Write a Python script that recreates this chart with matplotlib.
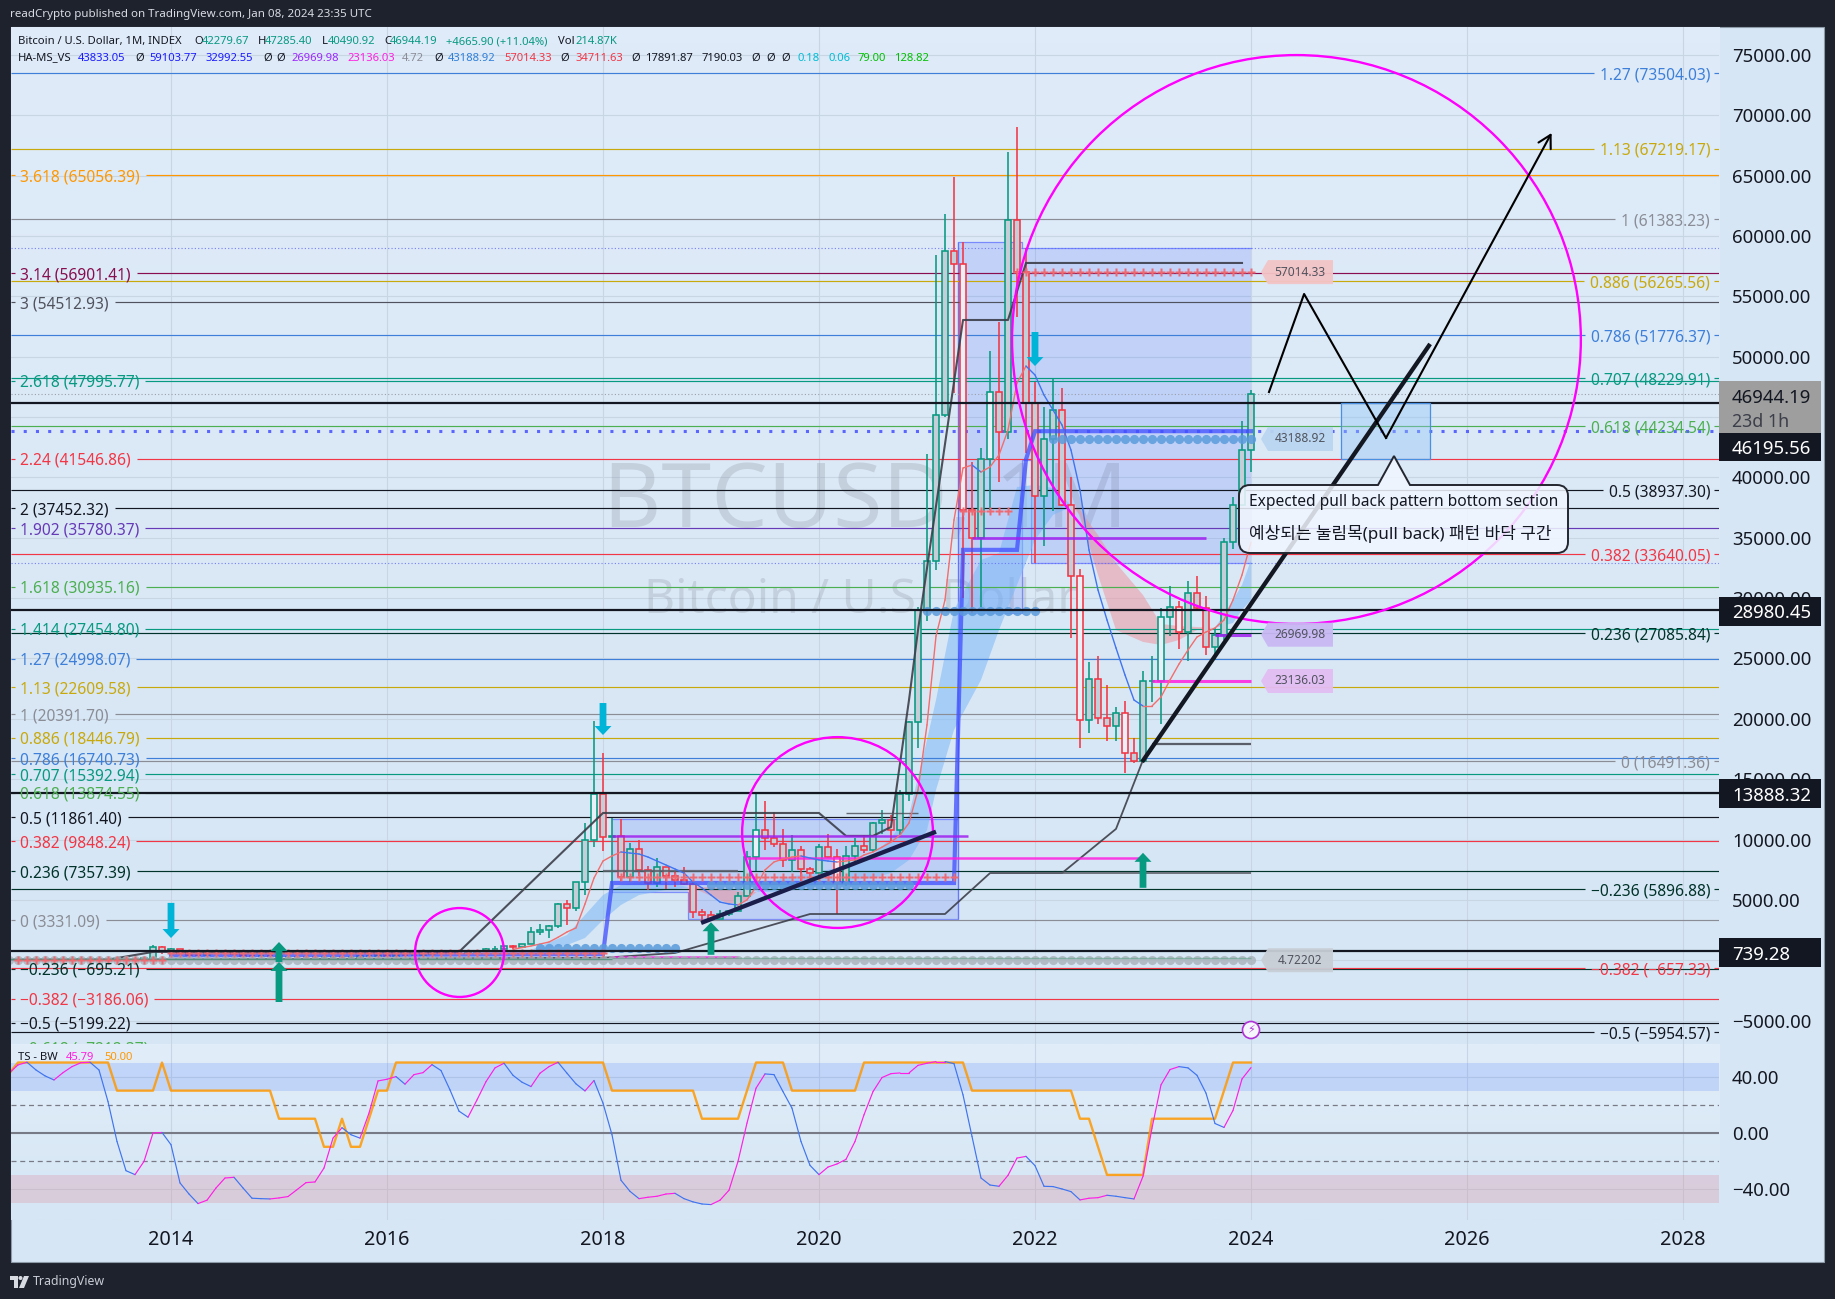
import numpy as np
import matplotlib
matplotlib.use("Agg")
import matplotlib.pyplot as plt
from matplotlib.collections import LineCollection
from matplotlib.patches import Ellipse, Polygon, PathPatch, Circle, Rectangle
from matplotlib.path import Path

plt.rcParams['font.family'] = ['Noto Sans', 'Noto Sans CJK KR', 'DejaVu Sans']

# ---------------------------------------------------------------- data
MONTH = list(range(-18, 121))   # months relative to Jan 2014
OPEN = [6.7,9,10,12.4,11,12.5,
 13,20,33,93,139,129,97,106,135,133,204,1130,
 750,940,570,460,450,625,640,590,480,385,340,375,
 320,230,255,245,235,230,263,284,230,236,314,377,
 430,370,437,416,448,530,675,625,575,610,700,745,
 965,965,1190,1080,1350,2300,2480,2875,4700,4340,6450,9950,
 13800,10200,10300,6900,9240,7490,6390,7730,7010,6620,6300,4020,
 3740,3450,3830,4100,5320,8560,10800,10100,9600,8300,9150,7550,
 7200,9350,8530,6420,8620,9450,9140,11350,11650,10780,13800,19700,
 29000,33100,45200,58800,57700,37300,35000,41500,47100,43800,61300,57000,
 46200,38500,43200,45600,37700,31800,19900,23300,20050,19420,20500,17160,
 16530,23100,23150,28450,29250,27200,30450,29200,25950,26950,34650,37700,
 42280]
HIGH = [9.2,15,12.5,12.8,12.5,14,
 20,33,95,266,140,129,110,140,145,230,1242,1150,
 1020,940,710,545,630,680,660,600,510,410,455,380,
 320,265,300,265,245,270,320,285,245,335,500,470,
 465,445,440,470,550,780,705,630,640,720,755,980,
 1150,1200,1300,1350,2790,3000,2900,4750,4980,6470,11400,19800,
 17200,11780,11700,9750,10000,7780,8480,7750,7400,7700,6570,4230,
 4080,4200,4110,5620,9090,13900,13200,12300,10900,10400,9500,7750,
 9600,10500,9190,9480,10100,10400,11450,12480,12050,14100,19850,29300,
 41950,58400,61800,64900,59500,41300,42400,50500,52900,67000,69000,59000,
 47900,45800,48200,47400,40000,32400,24700,25200,22800,21000,21450,18400,
 23950,25200,29200,31000,29800,31400,31800,30200,27500,35000,38400,44700,
 47285]
LOW = [6.5,7,9.7,10,10.5,12.5,
 13,20,33,50,85,88,65,100,117,115,200,500,
 730,400,450,340,430,525,570,430,370,275,320,300,
 170,210,235,215,225,220,255,200,225,235,305,350,
 350,365,395,415,440,520,610,480,570,605,680,740,
 750,920,890,1070,1350,2100,1850,2700,2950,4100,5400,9400,
 9050,5900,6600,6450,7000,5780,6070,5880,6100,6200,3500,3150,
 3350,3400,3680,4090,5300,7430,9100,9400,7700,7300,6500,6400,
 6850,8450,3800,6150,8100,8900,8950,10500,9850,10400,13200,17600,
 28100,32300,45000,47000,30000,28800,29300,37300,39600,43200,53300,42000,
 32900,34300,37200,37600,26700,17600,18800,19600,18200,18200,15500,16300,
 16500,21400,19600,26900,25800,24800,28900,25300,24900,26500,34100,37600,
 40490]
CLOSE = [9,10,12.4,11,12.5,13.4,
 20,33,93,139,129,97,106,135,133,204,1130,750,
 940,570,460,450,625,640,590,480,385,340,375,320,
 230,255,245,235,230,263,284,230,236,314,377,430,
 370,437,416,448,530,675,625,575,610,700,745,965,
 965,1190,1080,1350,2300,2480,2875,4700,4340,6450,9950,13800,
 10200,10300,6900,9240,7490,6390,7730,7010,6620,6300,4020,3740,
 3450,3830,4100,5320,8560,10800,10100,9600,8300,9150,7550,7200,
 9350,8530,6420,8620,9450,9140,11350,11650,10780,13800,19700,29000,
 33100,45200,58800,57700,37300,35000,41500,47100,43800,61300,57000,46200,
 38500,43200,45600,37700,31800,19900,23300,20050,19420,20500,17160,16530,
 23100,23150,28450,29250,27200,30450,29200,25950,26950,34650,37700,42280,
 46944]
LIGHT_MONTHS = [47, 65, 74, 88, 91, 101, 106, 110, 112]

LEFT_FIB = [("3.618 (65056.39)", 65056.39, "#ff9800"), ("3.14 (56901.41)", 56901.41, "#880e4f"),
 ("3 (54512.93)", 54512.93, "#50535e"), ("2.618 (47995.77)", 47995.77, "#089981"),
 ("2.24 (41546.86)", 41546.86, "#f23645"), ("2 (37452.32)", 37452.32, "#131722"),
 ("1.902 (35780.37)", 35780.37, "#673ab7"), ("1.618 (30935.16)", 30935.16, "#4caf50"),
 ("1.414 (27454.80)", 27454.80, "#089981"), ("1.27 (24998.07)", 24998.07, "#3d7fd9"),
 ("1.13 (22609.58)", 22609.58, "#c8a90c"), ("1 (20391.70)", 20391.70, "#8a8d96"),
 ("0.886 (18446.79)", 18446.79, "#c8a90c"), ("0.786 (16740.73)", 16740.73, "#3d7fd9"),
 ("0.707 (15392.94)", 15392.94, "#089981"), ("0.618 (13874.55)", 13874.55, "#4caf50"),
 ("0.5 (11861.40)", 11861.40, "#131722"), ("0.382 (9848.24)", 9848.24, "#f23645"),
 ("0.236 (7357.39)", 7357.39, "#00332a"), ("0 (3331.09)", 3331.09, "#8a8d96"),
 ("\u22120.236 (\u2212695.21)", -695.21, "#00332a"), ("\u22120.382 (\u22123186.06)", -3186.06, "#f23645"),
 ("\u22120.5 (\u22125199.22)", -5199.22, "#131722"), ("\u22120.618 (\u22127212.37)", -7212.37, "#4caf50")]
RIGHT_FIB = [("1.27 (73504.03)", 73504.03, "#3d7fd9"), ("1.13 (67219.17)", 67219.17, "#c8a90c"),
 ("1 (61383.23)", 61383.23, "#8a8d96"), ("0.886 (56265.56)", 56265.56, "#c8a90c"),
 ("0.786 (51776.37)", 51776.37, "#3d7fd9"), ("0.707 (48229.91)", 48229.91, "#089981"),
 ("0.618 (44234.54)", 44234.54, "#4caf50"), ("0.5 (38937.30)", 38937.30, "#131722"),
 ("0.382 (33640.05)", 33640.05, "#f23645"), ("0.236 (27085.84)", 27085.84, "#00332a"),
 ("0 (16491.36)", 16491.36, "#8a8d96"), ("\u22120.236 (5896.88)", 5896.88, "#00332a"),
 ("\u22120.382 (\u2212657.33)", -657.33, "#f23645"), ("\u22120.5 (\u22125954.57)", -5954.57, "#131722")]

GRID_PRICES = list(range(75000, -5001, -5000))
PRICE_TICKS = [75000, 70000, 65000, 60000, 55000, 50000, 40000, 35000, 30000, 25000, 20000, 15000, 10000, 5000, -5000]
YEAR_LABELS = ["2014", "2016", "2018", "2020", "2022", "2024", "2026", "2028"]
YEAR_MONTHS = [0, 24, 48, 72, 96, 120, 144, 168]
BLACK_LEVELS = [46195.56, 28980.45, 13888.32, 739.28]

MA_MONTH = list(range(38, 121))
MA_VALUE = [900,1050,1180,1340,1510,1900,2340,2680,4660,6810,8220,8640,8970,8880,8800,8550,8220,7890,7560,7220,
 6480,5990,5400,4820,4660,4580,5000,6070,7480,8140,8390,8550,8640,8470,8310,8220,8140,8220,8310,8720,8970,
 9370,9790,10370,11370,14100,19500,26860,29850,36475,40780,41030,40450,40870,41860,43930,47825,49230,48490,
 46830,45590,44345,42270,38960,33990,30675,28190,25870,23630,21560,21065,21065,21810,23220,24540,25705,
 26780,27195,27530,28190,29850,31920,34650]

RIB_MONTH = [40,44,46,48,50,52,55,58,60,62,64,66,68,70,74,78,80,82,84,85,87,90,92,94,96,98,100,101,103,105,108,110,112,114,116,118,119,120]
RIB_FAST = [850,2090,3750,5400,6240,6490,6400,5990,5320,4660,4990,6240,6810,7060,7640,8720,10130,12030,18250,21560,29020,33160,33740,39210,39380,39120,37720,36890,31920,27360,26370,26120,26530,27360,27530,29850,31090,33160]
RIB_SLOW = [684,1260,1840,3330,4580,5400,5820,6070,6070,5820,5660,5660,5660,5990,6490,6810,7230,8300,10790,14100,19080,23220,27360,31090,34820,36890,37550,37310,35230,32910,30260,27860,27690,27610,27530,27940,29020,29850]

ZONE_MONTH = [49, 57.4, 87.4, 94.6, 95.6, 120]
ZONE_TOP = [11700, 11700, 59500, 59000, 59000, 59000]
ZONE_BOT = [5650, 3420, 28770, 41450, 32900, 32900]

STAIR_BLUE_M = [0, 48, 49, 87, 88, 94, 95, 96, 120]
STAIR_BLUE_P = [400, 500, 6400, 6400, 34000, 34000, 41500, 43833, 43833]
UPPER_M = [-18, -7, -2, 32, 48, 72, 75, 78, 80, 82, 83, 88, 93, 95, 119]
UPPER_P = [50, 50, 690, 690, 12200, 12200, 10300, 10300, 11040, 21560, 27350, 53045, 53045, 57770, 57770]
LOWER_M = [-18, 48, 56, 71, 86, 91, 99, 105, 108]
LOWER_P = [30, 200, 600, 3830, 3830, 7220, 7220, 10880, 16590]

DOTS_BLUE = [(97.7, 120, 43189), (83.6, 96, 28960), (60, 82, 6230), (41, 56, 1000)]
DOTS_GRAY = (-18, 120, 4.72)
CROSSES = [(94, 120, 57014), (88, 93, 37250), (50, 87, 6900), (0, 48, 600), (-17, -1, 50)]
FLAT_LINES = [(89, 115, 35000, "#a020f0", 2.0), (116, 120, 26970, "#a020f0", 2.2), (109, 120, 23136, "#ff1fe0", 2.2),
              (49, 88.5, 10270, "#a020f0", 1.8), (64, 108, 8500, "#ff1fe0", 1.8), (49, 63, 230, "#ff1fe0", 1.8),
              (75, 83, 12200, "#50535e", 1.0), (109, 120, 17892, "#434651", 1.6), (48, 63, 7400, "#5c5f6a", 1.6),
              (91, 120, 7190, "#5c5f6a", 1.4)]
DOWN_ARROWS = [(0, 4750, 1840), (48, 21310, 18660), (96, 52050, 49230)]
UP_ARROWS = [(12, 1510, -143), (12, -143, -3460), (60, 3150, 450), (108, 8900, 6000)]
TAGS = [("57014.33", 57014, "#f3c4c6"), ("43188.92", 43189, "#b9d5f0"), ("26969.98", 26970, "#c9b8f3"),
        ("23136.03", 23136, "#e3bdf2"), ("4.72202", 4.72, "#c8ced6")]
CIRCLES = [(125.05, 51430, 31.6), (74.06, 10580, 10.6), (32.06, 640, 4.94)]
THICK_LINES = [([107.9, 139.9], [16430, 51060], "#131722"), ([58.9, 85.0], [3090, 10650], "#1a1d4a")]
PATH_M = [122, 125.9, 135, 153.4]
PATH_P = [47080, 55200, 43270, 68540]
BOX_M = [130, 139.9]
BOX_P = [41530, 46170]

RSI_VALUES = [42.4,48.3,50.2,44.7,40.5,37.6,42.8,47.1,49.9,50.2,44.7,22.2,-6.2,-27,-29.8,-20.4,-0.2,0.2,
 -8.5,-35.7,-43.6,-50.4,-48,-39.3,-32.2,-31.7,-39.3,-46.6,-46.9,-47.1,-46.4,-45.4,-40.5,-35.5,-35,-25.1,-3.8,3.6,
 -1.4,-3.8,14,36.9,38.1,40,34.6,41.4,42.8,48.5,44.3,30.5,15.4,11.1,23.4,36.4,46.2,49.5,40.9,36,32.9,42.4,47.1,50.2,
 42.4,34.8,29.8,37.2,21.1,-1.4,-33.8,-41.7,-46.9,-45.9,-45.2,-43.6,-43.1,-46.9,-49.2,-50.7,-51.1,-48,-40.9,-20.4,
 6.9,31.7,41.9,41.4,29.3,17.5,-6.2,-23.2,-29.8,-24.4,-22.2,-18.9,-6.2,12.8,29.3,39.3,42.1,42.6,42.6,48,49.5,50.7,
 50.7,49.2,27,-2.6,-32.2,-37.2,-38.1,-30.3,-18,-16.8,-23.4,-38.1,-38.3,-40,-41.9,-47.8,-46.6,-46.2,-44.5,-45.2,
 -46.2,-47.1,-31,3.3,34.1,45,47.1,46.2,40.9,28.2,6.6,3.8,15.9,38.3,46.4]
RSI_SIGNAL = [42, 50,50,50,50,50,50,50,50,50,50,50, 30,30,30,30,30, 50,
 30,30,30,30,30,30,30,30,30,30,30,30, 10,10,10,10,10, -10,-10, 10, -10,-10, 10, 30,30,
 50,50,50,50,50,50,50,50,50,50,50,50,50,50,50,50,50,50,50,50,50,50,50,50,
 30,30,30,30,30,30,30,30,30,30, 10,10,10,10,10, 30, 50,50,50,50,
 30,30,30,30,30,30,30,30, 50,50,50,50,50,50,50,50,50,50,50,50,
 30,30,30,30,30,30,30,30,30,30,30,30, 10,10, -10, -30,-30,-30,-30,-30,
 10,10,10,10,10,10,10,10, 30, 50,50,50]
RSI_TICKS = [40, 0, -40]

# ---------------------------------------------------------------- layout (pixels)
W, H = 1835, 1299
L, R, T, SPLIT, B, END = 10.5, 1719, 27, 1044, 1220, 1262
BG_DARK = "#1e222d"
fig = plt.figure(figsize=(W/100, H/100), dpi=100, facecolor=BG_DARK)

def rect_ax(x0, y0, x1, y1, z):
    return fig.add_axes([x0/W, 1-y1/H, (x1-x0)/W, (y1-y0)/H], zorder=z)

base = rect_ax(0, 0, W, H, 0)
base.set_xlim(0, W); base.set_ylim(H, 0); base.axis('off')
base.add_patch(Rectangle((L, T), 1824-L, END-T, fc="#d7e6f4", ec="#8d9aa8", lw=0.8))

ax = rect_ax(L, T, R, SPLIT, 1)
rs = rect_ax(L, SPLIT, R, B, 1)
top = rect_ax(0, 0, W, H, 3)
top.set_xlim(0, W); top.set_ylim(H, 0); top.axis('off'); top.patch.set_alpha(0)

MLEFT, MRIGHT = (L-171)/9, (R-171)/9
ax.set_xlim(MLEFT, MRIGHT); ax.set_ylim(-6940, 77320)
rs.set_xlim(MLEFT, MRIGHT); rs.set_ylim(-62.1, 63.2)
for a in (ax, rs):
    a.set_xticks([]); a.set_yticks([])
    for s in a.spines.values():
        s.set_visible(False)
    a.patch.set_alpha(0)
    a.set_autoscale_on(False)

def grad(a, c0, c1):
    rows = np.linspace(0, 1, 64)[:, None, None]
    img = np.array(matplotlib.colors.to_rgb(c0))[None, None, :]*(1-rows) + np.array(matplotlib.colors.to_rgb(c1))[None, None, :]*rows
    a.imshow(img, extent=(*a.get_xlim(), *a.get_ylim()), aspect='auto', origin='upper', zorder=0)
grad(ax, "#dfebf9", "#d6e6f4")
grad(rs, "#e1edf9", "#d6e6f4")

PX_X = 1/9
PX_Y = (77320+6940)/(SPLIT-T)
def px_x(m): return 171+9*m
def px_y(p): return 1299-ax.transData.transform((0, p))[1]
def m_of(x): return (x-171)/9

# grid
for m in YEAR_MONTHS:
    ax.axvline(m, color="#c8d6e4", lw=0.8, zorder=1)
    rs.axvline(m, color="#c8d6e4", lw=0.8, zorder=1)
for p in GRID_PRICES:
    ax.axhline(p, color="#c8d6e4", lw=0.8, zorder=1)
for v in RSI_TICKS:
    rs.axhline(v, color="#c8d6e4", lw=0.8, zorder=1)

# watermarks
ax.text(77.1, 37800, "BTCUSD, 1M", fontsize=64.5, color="#787b86", alpha=0.22, ha='center', va='center', zorder=1.5)
ax.text(76.6, 29800, "Bitcoin / U.S. Dollar", fontsize=34.5, color="#787b86", alpha=0.22, ha='center', va='center', zorder=1.5)

# shaded zone
ax.fill_between(ZONE_MONTH, ZONE_BOT, ZONE_TOP, step='post', color="#3f5fff", alpha=0.17, lw=0, zorder=2)
ax.step(ZONE_MONTH, ZONE_TOP, where='post', color="#5b6cff", lw=0.9, alpha=0.7, zorder=2.1)
ax.step(ZONE_MONTH, ZONE_BOT, where='post', color="#5b6cff", lw=0.9, alpha=0.7, zorder=2.1)
ax.vlines(ZONE_MONTH[2], ZONE_BOT[1], ZONE_TOP[2], color="#5b6cff", lw=0.9, alpha=0.7, zorder=2.1)

# ribbon
rm, rf, rl = np.array(RIB_MONTH), np.array(RIB_FAST), np.array(RIB_SLOW)
ax.fill_between(rm, rf, rl, where=rf >= rl, interpolate=True, color="#7db8f7", alpha=0.55, lw=0, zorder=2.2)
ax.fill_between(rm, rf, rl, where=rf <= rl, interpolate=True, color="#ee8f98", alpha=0.5, lw=0, zorder=2.2)

# fib lines + labels
renderer = fig.canvas.get_renderer()
FIB_FS = 11.2
FIB_LW = 0.85
def clip_to_pane(t):
    t.set_clip_path(Rectangle((L, T), R-L, SPLIT-T, transform=top.transData))
for label, p, c in LEFT_FIB:
    t = top.text(20, px_y(p), label, color=c, fontsize=FIB_FS, ha='left', va='center_baseline', clip_on=True)
    clip_to_pane(t)
    xe = t.get_window_extent(renderer).x1
    ax.hlines(p, m_of(xe+6), MRIGHT, color=c, lw=FIB_LW, zorder=2.5)
    ax.hlines(p, MLEFT, m_of(L+4), color=c, lw=FIB_LW, zorder=2.5)
for label, p, c in RIGHT_FIB:
    t = top.text(1710, px_y(p), label, color=c, fontsize=FIB_FS, ha='right', va='center_baseline')
    xs = t.get_window_extent(renderer).x0
    ax.hlines(p, MLEFT, m_of(xs-6), color=c, lw=FIB_LW, zorder=2.5)
    ax.hlines(p, m_of(1714), MRIGHT, color=c, lw=FIB_LW, zorder=2.5)

# dotted levels
ax.axhline(43833, color="#5b66ff", lw=2.2, ls=(0, (1, 3)), zorder=2.6)
for p in (59000, 32900):
    ax.axhline(p, color="#5b66ff", lw=0.8, ls=(0, (1, 2)), alpha=0.8, zorder=2.6)
ax.axhline(46944, color="#9aa0a8", lw=0.8, ls=(0, (1, 2)), zorder=2.6)

# candles
mx = np.array(MONTH); o, h, l, c = map(np.array, (OPEN, HIGH, LOW, CLOSE))
up = c >= o
GREEN, RED = "#089981", "#f23645"
edge = np.where(up, GREEN, RED)
ax.vlines(mx, np.maximum(o, c), h, colors=edge, lw=1.15, zorder=3)
ax.vlines(mx, l, np.minimum(o, c), colors=edge, lw=1.15, zorder=3)
fills = ["#eaf0f8" if m in LIGHT_MONTHS else "#c3ced9" for m in MONTH]
ax.bar(mx, np.abs(c-o), bottom=np.minimum(o, c), width=0.7, color=fills, edgecolor=edge, linewidth=1.15, zorder=3.1)

# stair lines
ax.plot(UPPER_M, UPPER_P, color="#3c3f4a", lw=1.5, alpha=0.9, zorder=3.3)
ax.plot(LOWER_M, LOWER_P, color="#3c3f4a", lw=1.3, alpha=0.9, zorder=3.3)
ax.plot(STAIR_BLUE_M, STAIR_BLUE_P, color="#3f4dff", lw=3.0, alpha=0.75, zorder=3.3, solid_joinstyle='miter')
for m0, m1, p, col, lw in FLAT_LINES:
    ax.hlines(p, m0, m1, color=col, lw=lw, alpha=0.85, zorder=3.3)

# thin moving line
def updown(a, xs, ys, c_up, c_dn, lw, z):
    xs, ys = np.array(xs, float), np.array(ys, float)
    segs = np.stack([np.column_stack([xs[:-1], ys[:-1]]), np.column_stack([xs[1:], ys[1:]])], axis=1)
    cols = [c_up if d >= 0 else c_dn for d in np.diff(ys)]
    a.add_collection(LineCollection(segs, colors=cols, linewidths=lw, zorder=z, capstyle='round'))
updown(ax, MA_MONTH, MA_VALUE, "#f26d6d", "#3f74f0", 1.0, 3.4)

# dots & crosses
for m0, m1, p in DOTS_BLUE:
    xs = np.arange(np.ceil(m0), m1+0.1)
    ax.plot(xs, [p]*len(xs), ls='', marker='o', ms=6.6, mfc="#5a9bdc", mec='none', alpha=0.85, zorder=3.5)
xs = np.arange(DOTS_GRAY[0], DOTS_GRAY[1]+1)
ax.plot(xs, [DOTS_GRAY[2]]*len(xs), ls='', marker='o', ms=6.6, mfc="#a8b1ba", mec='none', alpha=0.8, zorder=3.5)
ax.hlines(180, 49, 120, color="#4c9f7a", lw=1.0, alpha=0.5, zorder=3.6)
ax.hlines(120, -18, 49, color="#3a8a6a", lw=1.0, alpha=0.7, zorder=3.6)
for m0, m1, p in CROSSES:
    xs = np.arange(m0, m1+1)
    ax.plot(xs, [p]*len(xs), ls='', marker='P', ms=5.6, mfc="#ee6a73", mec='none', zorder=3.6)

# black levels
for p in BLACK_LEVELS:
    ax.axhline(p, color="#131722", lw=1.6, zorder=3.7)

# drawings
for m, p, r in CIRCLES:
    ax.add_patch(Ellipse((m, p), 2*r, 2*r*9*PX_Y, fc='none', ec="#ff00ff", lw=1.7, zorder=4))
for xs, ys, col in THICK_LINES:
    ax.plot(xs, ys, color=col, lw=3.1, zorder=4.1, solid_capstyle='butt')
ax.plot(PATH_M[:-1], PATH_P[:-1], color="#000000", lw=1.5, zorder=4.2)
ax.annotate('', xy=(PATH_M[3], PATH_P[3]), xytext=(PATH_M[2], PATH_P[2]),
            arrowprops=dict(arrowstyle='->,head_length=0.9,head_width=0.5', lw=1.5, color='black', shrinkA=0, shrinkB=0), zorder=4.2)
ax.add_patch(Rectangle((BOX_M[0], BOX_P[0]), BOX_M[1]-BOX_M[0], BOX_P[1]-BOX_P[0], fc="#90c4f5", alpha=0.4, ec="none", zorder=4))
ax.add_patch(Rectangle((BOX_M[0], BOX_P[0]), BOX_M[1]-BOX_M[0], BOX_P[1]-BOX_P[0], fc="none", ec="#4a90e2", lw=0.9, zorder=4))

def arrow(m, tip, tail, col):
    hw, sw = 8.5*PX_X, 3.4*PX_X
    sgn = 1 if tip > tail else -1
    hl = 9*PX_Y*sgn
    pts = [(m, tip), (m+hw, tip-hl), (m+sw, tip-hl), (m+sw, tail), (m-sw, tail), (m-sw, tip-hl), (m-hw, tip-hl)]
    ax.add_patch(Polygon(pts, closed=True, fc=col, ec='none', zorder=4.3))
for m, tail, tip in DOWN_ARROWS:
    arrow(m, tip, tail, "#00b4d8")
for m, tip, tail in UP_ARROWS:
    arrow(m, tip, tail, "#089981")

# tags on the chart
for label, p, col in TAGS:
    y = px_y(p)
    top.add_patch(Polygon([(1261, y), (1268, y-12), (1333, y-12), (1333, y+12), (1268, y+12)], closed=True, fc=col, ec='none', alpha=0.95, zorder=2))
    top.text(1300, y, label, fontsize=8.6, color="#50535e", ha='center', va='center', zorder=3)

# lightning icon
top.add_patch(Circle((1251, 1030), 8.5, fc="#f4f6fb", ec="#b032d6", lw=1.2, zorder=3))
top.text(1251, 1030, "\u26A1", fontsize=8, color="#b032d6", ha='center', va='center', family=['DejaVu Sans'], zorder=4)

# callout
cx0, cy0, cx1, cy1, rr = 1239, 485, 1568, 553, 11
ptx0, ptx, ptx1, pty = 1378, 1394, 1410, 456
verts = [(cx0+rr, cy0), (ptx0, cy0), (ptx, pty), (ptx1, cy0), (cx1-rr, cy0), (cx1, cy0), (cx1, cy0+rr), (cx1, cy1-rr), (cx1, cy1), (cx1-rr, cy1),
         (cx0+rr, cy1), (cx0, cy1), (cx0, cy1-rr), (cx0, cy0+rr), (cx0, cy0), (cx0+rr, cy0)]
codes = [Path.MOVETO, Path.LINETO, Path.LINETO, Path.LINETO, Path.LINETO, Path.CURVE3, Path.CURVE3, Path.LINETO, Path.CURVE3, Path.CURVE3,
         Path.LINETO, Path.CURVE3, Path.CURVE3, Path.LINETO, Path.CURVE3, Path.CURVE3]
top.add_patch(PathPatch(Path(verts, codes), fc=(0.95, 0.97, 1.0, 0.85), ec="#23262f", lw=1.4, zorder=2))
top.text(1249, 502, "Expected pull back pattern bottom section", fontsize=11.2, color="#131722", ha='left', va='center', zorder=3)
top.text(1249, 534, "예상되는 눌림목(pull back) 패턴 바닥 구간", fontsize=12.2, color="#131722", ha='left', va='center', zorder=3)

# RSI pane
rs.axhspan(30, 50, color="#2962ff", alpha=0.16, lw=0, zorder=1.2)
rs.axhspan(-50, -30, color="#e0455a", alpha=0.16, lw=0, zorder=1.2)
rs.axhline(0, color="#787b86", lw=1.5, zorder=2)
for v in (20, -20):
    rs.axhline(v, color="#787b86", lw=0.9, ls=(0, (4, 3)), zorder=2)
rs.plot(MONTH, RSI_SIGNAL, color="#ff9800", lw=1.7, alpha=0.85, zorder=3)
updown(rs, MONTH, RSI_VALUES, "#ff1fe6", "#3f74f0", 0.85, 3.2)

# right axis labels
AXF = 13.4
for p in PRICE_TICKS:
    top.text(1732, px_y(p), f"{p:.2f}".replace("-", "\u2212"), fontsize=AXF, color="#131722", ha='left', va='center_baseline', zorder=1)
for v in RSI_TICKS:
    y = 1299-rs.transData.transform((0, v))[1]
    top.text(1732, y, f"{v:.2f}".replace("-", "\u2212"), fontsize=AXF, color="#131722", ha='left', va='center_baseline', zorder=1)

def axis_box(yc, label, half=14.5):
    top.add_patch(Rectangle((1719, yc-half), 102, 2*half, fc="#131722", ec='none', zorder=5))
    top.text(1732, yc, label, fontsize=AXF, color="white", ha='left', va='center_baseline', zorder=6, fontweight='bold')
top.add_patch(Rectangle((1719, 381), 102, 52, fc="#9e9e9e", ec='none', zorder=5))
top.text(1732, 396, "46944.19", fontsize=AXF, color="#131722", ha='left', va='center_baseline', zorder=6)
top.text(1732, 419.5, "23d 1h", fontsize=12.8, color="#3c3f4a", ha='left', va='center_baseline', zorder=6)
axis_box(447, "46195.56", 14)
axis_box(611, "28980.45")
axis_box(793.5, "13888.32")
axis_box(952.5, "739.28")

# x axis labels
for m, s in zip(YEAR_MONTHS, YEAR_LABELS):
    top.text(px_x(m), 1240, s, fontsize=14.3, color="#131722", ha='center', va='center', fontweight='semibold')

# header
top.text(10, 14.5, "readCrypto published on TradingView.com, Jan 08, 2024 23:35 UTC", fontsize=8.3, color="#d8dbe2", ha='left', va='center')
R1 = [(18, "Bitcoin / U.S. Dollar, 1M, INDEX", "#131722"), (194.5, "O", "#131722"), (201.5, "42279.67", GREEN),
      (258, "H", "#131722"), (265, "47285.40", GREEN), (322, "L", "#131722"), (328, "40490.92", GREEN),
      (384.5, "C", "#131722"), (390, "46944.19", GREEN), (446, "+4665.90 (+11.04%)", GREEN),
      (558, "Vol", "#131722"), (575, "214.87K", GREEN)]
R2 = [(18, "HA-MS_VS", "#131722"), (78, "43833.05", "#1a1aff"), (135, "Ø", "#131722"), (149, "59103.77", "#1a1aff"),
      (205, "32992.55", "#1a1aff"), (263, "Ø", "#131722"), (276, "Ø", "#131722"), (291, "26969.98", "#9c27ff"),
      (347, "23136.03", "#ff1fe0"), (402, "4.72", "#8a8d96"), (434, "Ø", "#131722"), (448, "43188.92", "#2f7fd9"),
      (504, "57014.33", "#f23645"), (560, "Ø", "#131722"), (575, "34711.63", "#f23645"), (631, "Ø", "#131722"),
      (645, "17891.87", "#131722"), (702, "7190.03", "#131722"), (751, "Ø", "#131722"), (766, "Ø", "#131722"),
      (781, "Ø", "#131722"), (797, "0.18", "#00bcd4"), (828, "0.06", "#00bcd4"), (858, "79.00", "#00c000"), (894, "128.82", "#00c000")]
for x, s, col in R1:
    top.text(x, 41.5, s, fontsize=8.1, color=col, ha='left', va='center')
for x, s, col in R2:
    top.text(x, 58, s, fontsize=8.1, color=col, ha='left', va='center')
top.text(18, 1058, "TS - BW", fontsize=8.1, color="#131722", ha='left', va='center')
top.text(66, 1058, "45.79", fontsize=8.1, color="#ff1fe0", ha='left', va='center')
top.text(104, 1058, "50.00", fontsize=8.1, color="#ff9800", ha='left', va='center')

# footer
top.add_patch(Polygon([(10, 1276), (18, 1276), (18, 1288), (14, 1288), (14, 1280), (10, 1280)], closed=True, fc="#d8dbe2", ec='none'))
top.add_patch(Circle((20.5, 1278), 2, fc="#d8dbe2", ec='none'))
top.add_patch(Polygon([(24, 1276), (29, 1276), (24, 1288), (19, 1288)], closed=True, fc="#d8dbe2", ec='none'))
top.text(33, 1282, "TradingView", fontsize=8.9, color="#c8ccd4", ha='left', va='center')

fig.savefig("out.png", dpi=100, facecolor=BG_DARK)
